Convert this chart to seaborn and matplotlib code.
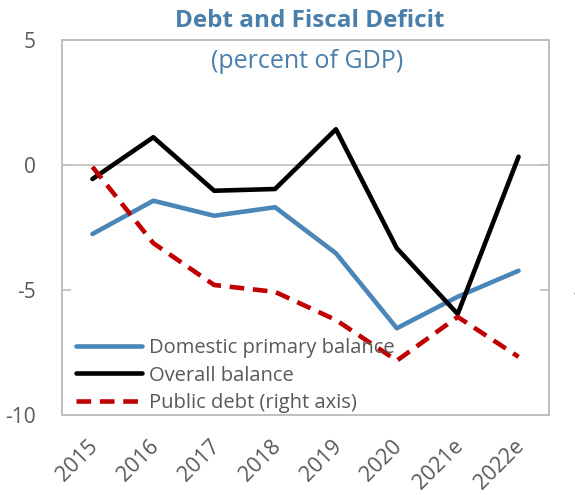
import matplotlib
matplotlib.use("Agg")
import matplotlib.pyplot as plt
import matplotlib.transforms as mtransforms
import seaborn as sns
import pandas as pd
from matplotlib.lines import Line2D

years = ["2015", "2016", "2017", "2018", "2019", "2020", "2021e", "2022e"]
domestic_primary = [-2.76, -1.43, -2.03, -1.69, -3.53, -6.53, -5.27, -4.23]
overall_balance = [-0.56, 1.11, -1.03, -0.96, 1.43, -3.33, -5.96, 0.33]
public_debt = [59.7, 47.5, 40.8, 39.7, 35.2, 28.7, 35.7, 29.3]

left_ticks = [5, 0, -5, -10]
right_ticks = [80, 60, 40, 20]

sns.set_theme(style="white")
plt.rcParams["font.family"] = ["Open Sans", "DejaVu Sans"]

GRAY = "#595959"
BLUE = "#4A86B8"
TITLE_BLUE = "#4A7EAB"
RED = "#C00000"
SPINE = "#BFBFBF"

df = pd.DataFrame({"year": years, "dom": domestic_primary,
                   "ovr": overall_balance, "debt": public_debt})

fig = plt.figure(figsize=(5.75, 4.95), dpi=100)
ax = fig.add_axes([62 / 575, 1 - 415 / 495, (549 - 62) / 575, (415 - 40) / 495])
ax2 = ax.twinx()

ax.axhline(0, color=SPINE, lw=1.2, zorder=0)
sns.lineplot(data=df, x="year", y="dom", ax=ax, color=BLUE, lw=3.3, sort=False)
sns.lineplot(data=df, x="year", y="ovr", ax=ax, color="black", lw=3.3, sort=False)
sns.lineplot(data=df, x="year", y="debt", ax=ax2, color=RED, lw=3.3, sort=False,
             dashes=False)
ax2.lines[0].set_dashes((3.2, 1.9))

ax.set_xlim(-0.5, 7.5)
ax.set_ylim(-10, 5)
ax2.set_ylim(20, 80)
ax.set_yticks(left_ticks)
ax.set_yticklabels([str(t) for t in left_ticks])
ax2.set_yticks(right_ticks)
ax2.set_yticklabels([str(t) for t in right_ticks])

for a in (ax, ax2):
    a.set_xlabel("")
    a.set_ylabel("")
    for s in a.spines.values():
        s.set_color(SPINE)
        s.set_linewidth(1.2)

ax.tick_params(axis="y", direction="in", length=6.5, width=1.2, color=SPINE,
               labelsize=15, labelcolor=GRAY, pad=19, left=True)
ax2.tick_params(axis="y", direction="in", length=6.5, width=1.2, color=SPINE,
                labelsize=15, labelcolor=GRAY, pad=18, right=True)
ax.tick_params(axis="x", length=0, labelsize=15.5, labelcolor=GRAY, pad=15)
shift = mtransforms.ScaledTranslation(-5 / 100, 0, fig.dpi_scale_trans)
for lab in ax.get_xticklabels():
    lab.set_rotation(45)
    lab.set_ha("right")
    lab.set_rotation_mode("anchor")
    lab.set_transform(lab.get_transform() + shift)

fig.text(310 / 575, 1 - 21 / 495, "Debt and Fiscal Deficit", ha="center", va="center",
         fontsize=17.5, fontweight="bold", color=TITLE_BLUE)
fig.text(307 / 575, 1 - 61 / 495, "(percent of GDP)", ha="center", va="center",
         fontsize=18, color=TITLE_BLUE)

handles = [Line2D([], [], color=BLUE, lw=3.3),
           Line2D([], [], color="black", lw=3.3),
           Line2D([], [], color=RED, lw=3.3, dashes=(3.2, 1.9))]
labels = ["Domestic primary balance", "Overall balance", "Public debt (right axis)"]
leg = ax2.legend(handles, labels, loc="lower left", bbox_to_anchor=(12 / 487, 0.0),
                 frameon=False, fontsize=14.5, handlelength=3.3, handletextpad=0.3,
                 labelspacing=0.37, borderaxespad=-0.3, labelcolor=GRAY)

fig.savefig("out.png", dpi=100)
